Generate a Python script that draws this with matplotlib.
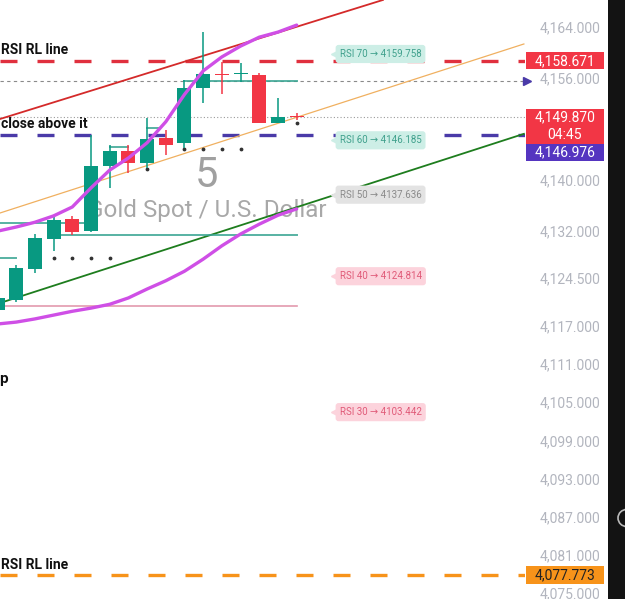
import numpy as np
import matplotlib.pyplot as plt
import matplotlib.transforms as mtransforms
from matplotlib.patches import Rectangle, Circle

plt.rcParams["font.family"] = ["Roboto", "DejaVu Sans"]

# ---- candles (bar index, OHLC) ----
bar_idx = list(range(17))
opens  = [4119.5, 4121.1, 4126.0, 4130.7, 4133.8, 4131.9, 4142.1, 4144.5, 4142.6,
          4146.55, 4145.75, 4154.4, 4156.6, 4156.55, 4156.45, 4148.9, 4149.95]
closes = [4121.4, 4126.1, 4130.8, 4133.65, 4131.8, 4142.1, 4144.5, 4142.6, 4146.4,
          4145.45, 4154.4, 4156.6, 4156.45, 4156.65, 4148.9, 4149.85, 4149.87]
highs  = [4121.5, 4126.6, 4131.45, 4134.4, 4134.3, 4147.0, 4145.45, 4145.45, 4149.7,
          4147.8, 4155.7, 4163.2, 4158.5, 4158.3, 4156.8, 4152.8, 4150.5]
lows   = [4119.3, 4120.8, 4125.3, 4128.8, 4131.3, 4131.8, 4138.7, 4141.0, 4141.8,
          4143.9, 4145.0, 4152.05, 4153.5, 4155.35, 4148.9, 4148.9, 4149.4]

# ---- band lines (magenta) ----
band_upper = [4131.9, 4132.55, 4133.3, 4134.3, 4135.7, 4138.7, 4141.5, 4143.4, 4145.8,
              4149.1, 4153.4, 4157.1, 4159.3, 4161.0, 4162.4, 4163.2, 4164.3]
band_lower = [4117.3, 4117.6, 4118.1, 4118.7, 4119.3, 4119.8, 4120.4, 4121.4, 4122.8,
              4124.1, 4125.6, 4127.5, 4129.6, 4131.45, 4133.0, 4134.4, 4135.4]

# ---- trend lines (x as bar index, y as price) ----
red_tl_x, red_tl_y = [0.13, 20.61], [4149.53, 4168.25]
orange_tl_x, orange_tl_y = [0.13, 28.15], [4134.75, 4161.33]
green_tl_x, green_tl_y = [0.13, 28.15], [4120.6, 4147.2]

# ---- horizontal levels ----
rsi_rl_upper = 4158.671
close_level = 4146.976
rsi_rl_lower = 4077.773
last_price = 4149.870
countdown = "04:45"
gray_dash_level = 4155.5

# indicator step lines (price, x start, x end)
teal_steps = [(4131.3, 3.18, 16.0), (4133.2, 0.1, 4.6), (4155.5, 10.0, 16.0),
              (4145.1, 6.0, 7.0), (4148.1, 8.0, 8.6), (4127.7, 0.1, 1.0)]
pink_level = (4120.1, 0.1, 16.0)
dots_a_x, dots_a_y = [3, 4, 5, 6], 4127.7
dots_b_x, dots_b_y = [10, 11, 12, 13], 4144.8
dots_c_x, dots_c_y = [8, 16], [4141.6, 4148.9]

# ---- RSI tags ----
rsi_levels = [70, 60, 50, 40, 30]
rsi_prices = [4159.758, 4146.185, 4137.636, 4124.814, 4103.442]
rsi_kind = ["teal", "teal", "gray", "pink", "pink"]

# ---- price axis ----
yticks = [4164, 4156, 4140, 4132, 4124.5, 4117, 4111, 4105, 4099, 4093, 4087, 4081, 4075]

GREEN = "#089981"
RED = "#f23645"

fig = plt.figure(figsize=(6.25, 5.99), dpi=100)
fig.patch.set_facecolor("white")
ax = fig.add_axes([0, 0, 525 / 625, 1])
ax.set_xlim(0.134, 28.21)
ax.set_ylim(4074.06, 4168.246)
for s in ax.spines.values():
    s.set_visible(False)
ax.set_xticks([])
ax.yaxis.tick_right()
ax.set_yticks(yticks)
ax.set_yticklabels([f"{v:,.3f}" for v in yticks])
ax.tick_params(axis="y", length=0, pad=10.5, labelcolor="#b2b5be", labelsize=10)

# watermark
ax.text(11.2, 4140.7, "5", fontsize=30, color="#a0a0a0", ha="center", va="center", zorder=0)
ax.text(11.2, 4135.2, "Gold Spot / U.S. Dollar", fontsize=17.5, color="#a8a8a8",
        ha="center", va="center", zorder=0)

# horizontal dashed levels
ax.axhline(rsi_rl_upper, color="#e0303e", lw=2.4, dashes=(5.1, 6.0), zorder=2)
ax.axhline(close_level, color="#4a3aa8", lw=2.4, dashes=(5.1, 6.0), zorder=2)
ax.axhline(rsi_rl_lower, color="#f7931a", lw=2.4, dashes=(5.1, 6.0), zorder=2)
ax.plot([0.134, 28.3], [gray_dash_level] * 2, color="#8a8a8a", lw=0.8, dashes=(3, 3), zorder=2)
ax.plot([28.3], [gray_dash_level], marker=">", color="#4a3aa8", ms=6, clip_on=False, zorder=5)
ax.axhline(last_price, color="#9a9a9a", lw=0.8, dashes=(1, 2), zorder=2)

# trend lines
ax.plot(red_tl_x, red_tl_y, color="#d42a2a", lw=1.3, zorder=3)
ax.plot(orange_tl_x, orange_tl_y, color="#f0b060", lw=0.9, zorder=3)
ax.plot(green_tl_x, green_tl_y, color="#1e7d1e", lw=1.3, zorder=3)

# indicator lines
for y, x0, x1 in teal_steps:
    ax.plot([x0, x1], [y, y], color="#3aa593", lw=1.4, alpha=0.85, zorder=3)
ax.plot([pink_level[1], pink_level[2]], [pink_level[0]] * 2, color="#e39aae", lw=1.2, zorder=3)
ax.scatter(dots_a_x, [dots_a_y] * len(dots_a_x), s=3, color="#333", zorder=3)
ax.scatter(dots_b_x, [dots_b_y] * len(dots_b_x), s=3, color="#333", zorder=3)
ax.scatter(dots_c_x, dots_c_y, s=3, color="#333", zorder=3)

# candles
for i, o, h, l, c in zip(bar_idx, opens, highs, lows, closes):
    col = GREEN if c >= o else RED
    ax.vlines(i, l, h, color=col, lw=1.1, zorder=4)
    ax.bar(i, max(abs(c - o), 0.15), bottom=min(o, c), width=0.75, color=col, zorder=4)

# magenta bands
ax.plot(bar_idx, band_upper, color="#cf4fe6", lw=2.4, zorder=5, solid_capstyle="round")
ax.plot(bar_idx, band_lower, color="#cf4fe6", lw=2.4, zorder=5, solid_capstyle="round")

# RSI tags
tag_style = {"teal": ("#cdeee6", "#3fa08c"), "gray": ("#e3e3e3", "#8a8a8a"),
             "pink": ("#fcd3dc", "#e05a78")}
for lvl, pr, kind in zip(rsi_levels, rsi_prices, rsi_kind):
    bg, fg = tag_style[kind]
    ax.text(18.3, pr, f"RSI {lvl} \u2192 {pr:.3f}", fontsize=7, color=fg, ha="left",
            va="center", zorder=6,
            bbox=dict(boxstyle="round,pad=0.42,rounding_size=0.3", fc=bg, ec="none"))
    ax.plot([18.05], [pr], marker="<", color=bg, ms=6, zorder=6)

# annotations
ax.text(0.2, 4160.4, "RSI RL line", fontsize=10, fontweight="bold", color="#111", va="center")
ax.text(0.2, 4148.75, "close above it", fontsize=10, fontweight="bold", color="#111", va="center")
ax.text(0.08, 4108.6, "p", fontsize=11, fontweight="bold", color="#111", va="center")
ax.text(0.2, 4079.4, "RSI RL line", fontsize=10, fontweight="bold", color="#111", va="center")

# price boxes on the axis
bx = mtransforms.blended_transform_factory(fig.transFigure, ax.transData)
def price_box(y_center, h, face, lines, tcol="white", shift_px=0):
    tr = bx + mtransforms.ScaledTranslation(0, -shift_px / 100, fig.dpi_scale_trans)
    ax.add_patch(Rectangle((526 / 625, y_center - h / 2), 78 / 625, h, transform=tr,
                           fc=face, ec="none", clip_on=False, zorder=7))
    n = len(lines)
    for k, t in enumerate(lines):
        yy = y_center + h / 2 - h * (k + 0.5) / n
        ax.text(565 / 625, yy, t, transform=tr, fontsize=10, color=tcol, ha="center",
                va="center", clip_on=False, zorder=8)

px = 1 / 6.3596
price_box(rsi_rl_upper, 17 * px, RED, [f"{rsi_rl_upper:,.3f}"])
price_box(last_price - 9.5 * px, 35 * px, RED, [f"{last_price:,.3f}", countdown])
price_box(close_level, 17 * px, "#5535c0", [f"{close_level:,.3f}"], shift_px=17)
price_box(rsi_rl_lower, 18 * px, "#f7931a", [f"{rsi_rl_lower:,.3f}"], tcol="#222")

# dark strip on the far right
fig.add_artist(Rectangle((608 / 625, 0), 17 / 625, 1, transform=fig.transFigure,
                         fc="#131313", ec="none"))
fig.add_artist(Circle((627 / 625, 1 - 518 / 599), 9 / 625, transform=fig.transFigure,
                      fc="none", ec="#bbbbbb", lw=1.2))

fig.savefig("out.png", dpi=100)
